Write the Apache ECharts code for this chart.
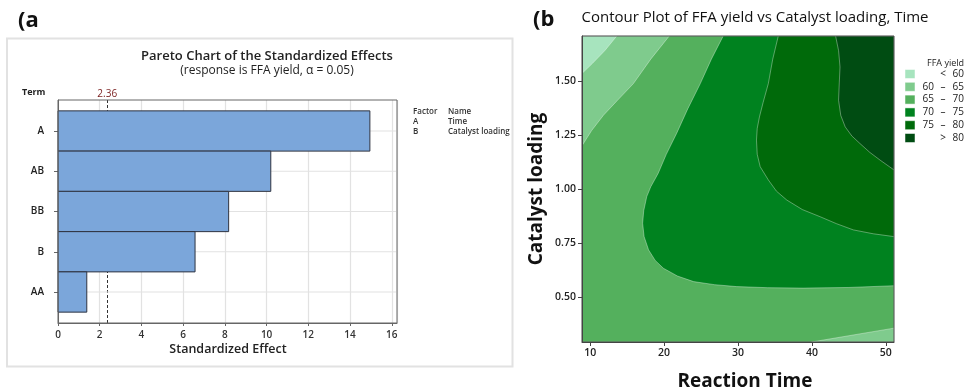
<!DOCTYPE html>
<html><head><meta charset="utf-8">
<script src="https://cdn.jsdelivr.net/npm/echarts@6/dist/echarts.min.js"></script>
<style>html,body{margin:0;padding:0;background:#fff}#c{width:969px;height:391px}</style>
</head><body><div id="c"></div>
<script>
// ---------- Panel (a): Pareto chart data ----------
const terms = ['A', 'AB', 'BB', 'B', 'AA'];
const effects = [14.95, 10.2, 8.18, 6.57, 1.38];
const refValue = 2.36;
const effectTicks = [0, 2, 4, 6, 8, 10, 12, 14, 16];
const factorCodes = ['A', 'B'];
const factorNames = ['Time', 'Catalyst loading'];

// ---------- Panel (b): contour plot data ----------
const timeTicks = [10, 20, 30, 40, 50];
const loadTicks = [0.50, 0.75, 1.00, 1.25, 1.50];
const timeRange = [8.9, 51.1];
const loadRange = [0.293, 1.707];
// contour boundary lines, [time, catalyst loading]
const contour60 = [[13.6, 1.707], [12.0, 1.64], [10.3, 1.58], [8.9, 1.534]];
const contour60b = [[39.96, 0.293], [45.0, 0.322], [51.1, 0.357]];
const contour65 = [[20.7, 1.707], [18.2, 1.60], [15.85, 1.487], [13.7, 1.41], [11.8, 1.341], [10.2, 1.27], [8.9, 1.20]];
const contour70 = [[28.0, 1.707], [26.4, 1.60], [24.9, 1.487], [23.2, 1.37], [21.7, 1.257], [20.3, 1.16], [19.2, 1.072], [18.2, 1.01], [17.66, 0.965], [17.25, 0.90], [17.1, 0.842], [17.3, 0.78], [17.9, 0.719], [18.8, 0.67], [19.9, 0.634], [21.8, 0.598], [24.0, 0.572], [26.8, 0.558], [29.8, 0.549], [34.0, 0.544], [38.8, 0.542], [45.0, 0.545], [51.1, 0.553]];
const contour75 = [[35.45, 1.707], [34.7, 1.60], [34.1, 1.487], [33.4, 1.40], [32.9, 1.333], [32.6, 1.28], [32.5, 1.226], [32.6, 1.16], [33.0, 1.103], [34.1, 1.042], [35.2, 0.99], [36.6, 0.949], [38.7, 0.905], [41.1, 0.872], [43.3, 0.84], [45.6, 0.811], [48.3, 0.793], [51.1, 0.78]];
const contour80 = [[43.2, 1.707], [43.6, 1.64], [43.8, 1.564], [43.7, 1.49], [43.6, 1.41], [43.9, 1.34], [44.5, 1.287], [45.4, 1.245], [46.5, 1.21], [47.8, 1.17], [49.2, 1.134], [51.1, 1.088]];
const bandLabels = [['', '<', '60'], ['60', '–', '65'], ['65', '–', '70'], ['70', '–', '75'], ['75', '–', '80'], ['', '>', '80']];
const bandColors = ['#a7e4be', '#7fcb8d', '#54b05d', '#00821f', '#006a0a', '#004c12'];

// regions: polygon point lists + colour index
const [tMin, tMax] = timeRange, [lMin, lMax] = loadRange;
const regions = [
  {pts: [[tMin, lMin], [tMax, lMin], [tMax, lMax], [tMin, lMax]], c: 2},
  {pts: contour65.concat([[tMin, lMax]]), c: 1},
  {pts: contour60.concat([[tMin, lMax]]), c: 0},
  {pts: contour60b.concat([[tMax, lMin]]), c: 1},
  {pts: contour70.concat([[tMax, lMax]]), c: 3},
  {pts: contour75.concat([[tMax, lMax]]), c: 4},
  {pts: contour80.concat([[tMax, lMax]]), c: 5}
];

const FONT = 'Open Sans';
const chart = echarts.init(document.getElementById('c'), null, {renderer: 'canvas'});

const graphics = [
  // panel (a) frame
  {type: 'rect', shape: {x: 7, y: 38.5, width: 505.5, height: 328}, style: {fill: 'none', stroke: '#e2e2e2', lineWidth: 2}, z: 0},
  {type: 'text', left: 18, top: 10, style: {text: '(a', font: 'bold 22px ' + FONT, fill: '#111'}},
  {type: 'text', left: 533, top: 9, style: {text: '(b', font: 'bold 22px ' + FONT, fill: '#111'}},
  {type: 'text', x: 267, y: 56, style: {text: 'Pareto Chart of the Standardized Effects', font: '600 13px ' + FONT, fill: '#222', align: 'center', verticalAlign: 'middle'}},
  {type: 'text', x: 267, y: 71, style: {text: '(response is FFA yield, α = 0.05)', font: '12px ' + FONT, fill: '#222', align: 'center', verticalAlign: 'middle'}},
  {type: 'text', x: 22, y: 92, style: {text: 'Term', font: 'bold 9px ' + FONT, fill: '#222', verticalAlign: 'middle'}},
  {type: 'text', x: 228, y: 349, style: {text: 'Standardized Effect', font: '600 12.5px ' + FONT, fill: '#222', align: 'center', verticalAlign: 'middle'}},
  {type: 'text', x: 413, y: 112, style: {text: 'Factor', font: '600 8px ' + FONT, fill: '#333', verticalAlign: 'middle'}},
  {type: 'text', x: 448, y: 112, style: {text: 'Name', font: '600 8px ' + FONT, fill: '#333', verticalAlign: 'middle'}},
  {type: 'text', x: 755, y: 18, style: {text: 'Contour Plot of FFA yield vs Catalyst loading, Time', font: '15px ' + FONT, fill: '#111', align: 'center', verticalAlign: 'middle'}},
  {type: 'text', x: 745, y: 382, style: {text: 'Reaction Time', font: 'bold 19px ' + FONT, fill: '#111', align: 'center', verticalAlign: 'middle'}},
  {type: 'text', x: 537, y: 189, rotation: Math.PI / 2, style: {text: 'Catalyst loading', font: 'bold 19px ' + FONT, fill: '#111', align: 'center', verticalAlign: 'middle'}},
  {type: 'text', x: 964, y: 63, style: {text: 'FFA yield', font: '9px ' + FONT, fill: '#222', align: 'right', verticalAlign: 'middle'}}
];
factorCodes.forEach((f, i) => {
  graphics.push({type: 'text', x: 413, y: 122 + i * 10, style: {text: f, font: '600 8px ' + FONT, fill: '#333', verticalAlign: 'middle'}});
  graphics.push({type: 'text', x: 448, y: 122 + i * 10, style: {text: factorNames[i], font: '600 8px ' + FONT, fill: '#333', verticalAlign: 'middle'}});
});
bandLabels.forEach((b, i) => {
  const y = 74 + i * 12.8;
  graphics.push({type: 'rect', shape: {x: 905, y: y - 4.5, width: 10, height: 9}, style: {fill: bandColors[i], stroke: '#ffffff', lineWidth: 0.5}});
  if (b[0]) graphics.push({type: 'text', x: 934, y: y, style: {text: b[0], font: '10px ' + FONT, fill: '#222', align: 'right', verticalAlign: 'middle'}});
  graphics.push({type: 'text', x: 943, y: y, style: {text: b[1], font: '10px ' + FONT, fill: '#222', align: 'center', verticalAlign: 'middle'}});
  graphics.push({type: 'text', x: 964, y: y, style: {text: b[2], font: '10px ' + FONT, fill: '#222', align: 'right', verticalAlign: 'middle'}});
});

const option = {
  animation: false,
  backgroundColor: '#fff',
  textStyle: {fontFamily: FONT},
  grid: [
    {left: 58, top: 100, right: 572, bottom: 68, show: true, borderColor: '#666', borderWidth: 1, z: 10},
    {left: 582, top: 36, right: 75, bottom: 49, show: true, borderColor: '#444', borderWidth: 1, z: 10}
  ],
  xAxis: [
    {gridIndex: 0, type: 'value', min: 0, max: 16.25, interval: 2, z: 0,
      axisLine: {show: true, onZero: false, lineStyle: {color: '#666'}},
      axisTick: {show: true, length: 3, lineStyle: {color: '#666'}},
      axisLabel: {fontSize: 10, color: '#333', margin: 7, fontWeight: 600, showMaxLabel: false},
      splitLine: {show: true, lineStyle: {color: '#e2e2e2', width: 1.2}}},
    {gridIndex: 1, type: 'value', min: tMin, max: tMax, z: 10,
      axisLine: {show: true, onZero: false, lineStyle: {color: '#444'}},
      axisTick: {show: true, length: 4, customValues: timeTicks, lineStyle: {color: '#444'}},
      axisLabel: {fontSize: 10.5, color: '#222', margin: 6, fontWeight: 600, customValues: timeTicks},
      splitLine: {show: false}}
  ],
  yAxis: [
    {gridIndex: 0, type: 'value', inverse: true, min: -0.77, max: 4.77, z: 0,
      axisLine: {show: true, onZero: false, lineStyle: {color: '#666'}},
      axisTick: {show: true, length: 4, customValues: [0, 1, 2, 3, 4], lineStyle: {color: '#666'}},
      axisLabel: {fontSize: 10, color: '#222', fontWeight: 600, margin: 14, customValues: [0, 1, 2, 3, 4], formatter: v => terms[Math.round(v)]},
      splitLine: {show: false}},
    {gridIndex: 1, type: 'value', min: lMin, max: lMax, z: 10,
      axisLine: {show: true, onZero: false, lineStyle: {color: '#444'}},
      axisTick: {show: true, length: 4, customValues: loadTicks, lineStyle: {color: '#444'}},
      axisLabel: {fontSize: 10.5, color: '#222', fontWeight: 600, margin: 6, customValues: loadTicks, formatter: v => v.toFixed(2)},
      splitLine: {show: false}}
  ],
  graphic: graphics,
  series: [
    { // horizontal gridlines at the terms + reference line (behind bars)
      type: 'custom', xAxisIndex: 0, yAxisIndex: 0, z: 1, silent: true,
      data: terms.map((t, i) => [i]),
      renderItem: (params, api) => {
        const i = api.value(0);
        const a = api.coord([0, i]), b = api.coord([16.2, i]);
        return {type: 'line', shape: {x1: a[0], y1: a[1], x2: b[0], y2: b[1]}, style: {stroke: '#e2e2e2', lineWidth: 1.2}};
      },
      markLine: {
        silent: true, symbol: ['none', 'none'], z: 1,
        lineStyle: {type: [3, 2], color: '#333', width: 1},
        label: {show: true, position: 'start', formatter: String(refValue), color: '#7a1f1f', fontSize: 10, distance: 1},
        data: [{xAxis: refValue}]
      }
    },
    { // Pareto bars
      type: 'custom', xAxisIndex: 0, yAxisIndex: 0, z: 2,
      data: effects.map((v, i) => [v, i]),
      renderItem: (params, api) => {
        const v = api.value(0), i = api.value(1);
        const p0 = api.coord([0, i - 0.5]), p1 = api.coord([v, i + 0.5]);
        return {type: 'rect', shape: {x: Math.min(p0[0], p1[0]), y: Math.min(p0[1], p1[1]), width: Math.abs(p1[0] - p0[0]), height: Math.abs(p1[1] - p0[1])},
          style: {fill: '#7ba6da', stroke: '#2f3440', lineWidth: 1}};
      }
    },
    { // contour regions
      type: 'custom', xAxisIndex: 1, yAxisIndex: 1, z: 2, silent: true,
      data: regions.map((r, i) => [i]),
      renderItem: (params, api) => {
        const r = regions[api.value(0)];
        return {type: 'polygon', shape: {points: r.pts.map(p => api.coord(p))},
          style: {fill: bandColors[r.c], stroke: 'rgba(255,255,255,0.35)', lineWidth: 1}};
      }
    }
  ]
};
chart.setOption(option);
</script>
</body></html>
